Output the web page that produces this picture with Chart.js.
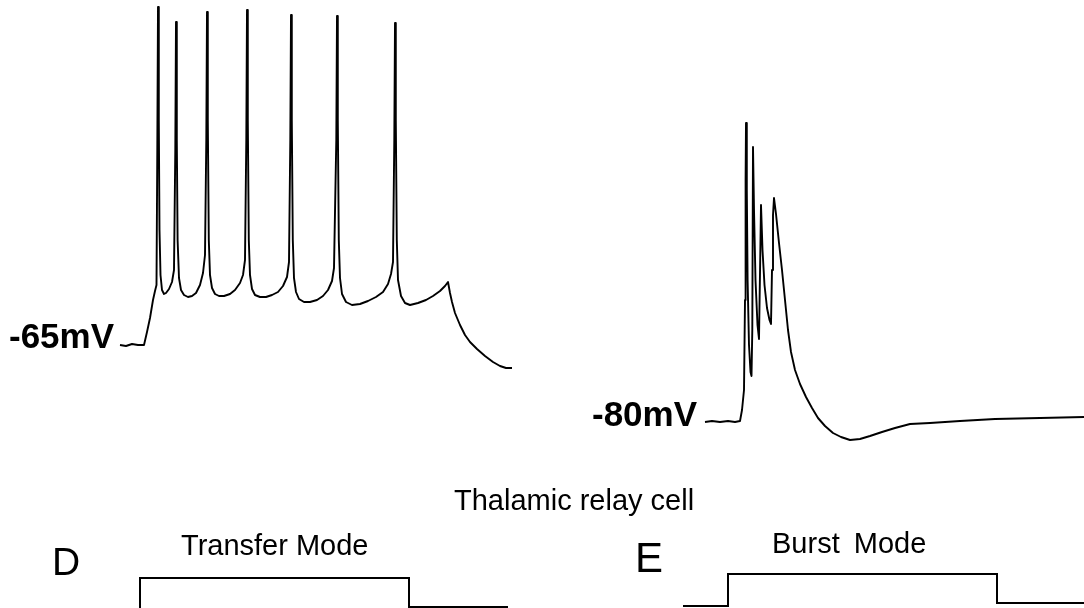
<!DOCTYPE html>
<html>
<head>
<meta charset="utf-8">
<script src="https://cdn.jsdelivr.net/npm/chart.js@4"></script>
<style>
  html, body { margin: 0; padding: 0; background: #fff; }
  #wrap { position: relative; width: 1084px; height: 608px; overflow: hidden; background: #fff; }
  #c { position: absolute; left: 0; top: 0; }
  .lbl { position: absolute; white-space: nowrap; color: #000; font-family: "Liberation Sans", Arial, sans-serif; line-height: 1; }
</style>
</head>
<body>
<div id="wrap">
  <canvas id="c" width="1084" height="608"></canvas>
  <div class="lbl" style="left:9px; top:318px; font-size:35px; font-weight:bold;">-65mV</div>
  <div class="lbl" style="left:592px; top:396px; font-size:35px; font-weight:bold;">-80mV</div>
  <div class="lbl" style="left:454px; top:486px; font-size:29px;">Thalamic relay cell</div>
  <div class="lbl" style="left:52px; top:542px; font-size:39px;">D</div>
  <div class="lbl" style="left:181px; top:531px; font-size:29px;">Transfer Mode</div>
  <div class="lbl" style="left:635px; top:537px; font-size:42px;">E</div>
  <div class="lbl" style="left:772px; top:529px; font-size:29px; word-spacing:6px;">Burst Mode</div>
</div>
<script>
// Transfer mode (tonic firing) membrane potential: time (ms), Vm (mV)
const leftTime = [0,6,12,18,24,27,30,33,35,36.5,
  37.3,38,38.8,39.5,40.5,42,44,46,49,52,54,
  55.3,56,56.8,57.6,59,61,64,68,72,76,80,83,85,
  86.3,87,87.8,88.8,90,92,95,99,104,110,115,120,123,125,
  126.3,127,127.8,128.8,130,132,135,140,146,152,158,163,167,169,
  170.3,171,171.8,172.8,174,176,179,184,190,197,203,208,212,214,
  216.3,217,217.8,218.8,220,222,226,232,240,248,256,263,268,271,273,
  274.3,275,275.8,276.8,278,281,285,290,298,306,313,320,325,328,
  330,332,335,340,345,350,357,365,373,380,386,392];
const leftVm = [-65,-65.2,-64.8,-65,-65,-62.4,-59.6,-56,-54.2,-53,
  -26,2.6,-20,-42,-51,-54,-54.8,-54.6,-53.8,-52.4,-50,
  -26,-0.4,-24,-44,-51.6,-54,-55,-55.4,-55.2,-54.6,-53,-50.6,-47,
  -24,1.6,-20,-44,-51,-53.6,-54.8,-55.2,-55.2,-54.8,-54,-52.6,-51,-48,
  -24,2,-20,-44,-51,-53.8,-55,-55.4,-55.4,-55,-54.4,-53.2,-51.4,-48.4,
  -24,1,-20,-44,-51.6,-54.4,-55.8,-56.4,-56.4,-56,-55.2,-54,-52.2,-49.6,
  -24,0.8,-20,-44,-51.6,-54.8,-56.4,-57,-56.8,-56.2,-55.4,-54.4,-52.8,-50.8,-48.4,
  -24,-0.6,-20,-44,-52,-55.2,-56.6,-57,-56.6,-56,-55.2,-54.2,-53.2,-52.4,
  -54.6,-56.4,-58.6,-61,-63,-64.4,-65.8,-67.2,-68.4,-69.2,-69.6,-69.6];

// Burst mode membrane potential: time (ms), Vm (mV)
const rightTime = [0,7,15,23,30,35,37,39,
  40,40.6,41,41.8,42.6,44,45.5,46.5,
  47.3,48,49,50.5,52.5,54,
  55.2,56,57.5,59.5,62,64.5,66,
  67,68,69,71,74,77,80,83,86,90,95,101,107,113,120,128,136,145,
  155,165,177,190,205,225,255,290,335,379];
const rightVm = [-80.4,-80.2,-80.4,-80.2,-80.4,-80.2,-78,-74,
  -56,-32,-20.6,-34,-52,-65,-70.4,-71.2,
  -62,-25.4,-38,-52,-61,-63.8,
  -48,-37,-46,-53,-57.6,-60,-60.8,
  -50,-39,-35.6,-38.8,-44.6,-50,-56,-62,-66.4,-70,-72.8,-75.4,-77.6,-79.6,-81.2,-82.6,-83.4,-84,
  -83.8,-83.2,-82.4,-81.6,-80.8,-80.6,-80.2,-79.8,-79.6,-79.4];

// Injected current steps (nA)
const stepLeftTime = [20,20,289,289,388];
const stepLeftCurrent = [-0.05,0.30,0.30,0.01,0.01];
const stepRightTime = [-22,23,23,292,292,379];
const stepRightCurrent = [0.02,0.02,0.34,0.34,0.05,0.05];

function pts(xs, ys) { return xs.map((x, i) => ({ x: x, y: ys[i] })); }

const base = { borderColor: '#000', pointRadius: 0, tension: 0, fill: false, showLine: true, borderJoinStyle: 'round' };

new Chart(document.getElementById('c'), {
  type: 'line',
  data: {
    datasets: [
      Object.assign({}, base, { label: 'Transfer Vm', data: pts(leftTime, leftVm), borderWidth: 1.9, xAxisID: 'xL', yAxisID: 'yV' }),
      Object.assign({}, base, { label: 'Burst Vm', data: pts(rightTime, rightVm), borderWidth: 1.9, xAxisID: 'xR', yAxisID: 'yV' }),
      Object.assign({}, base, { label: 'Transfer step', data: pts(stepLeftTime, stepLeftCurrent), borderWidth: 2, borderJoinStyle: 'miter', xAxisID: 'xL', yAxisID: 'yI' }),
      Object.assign({}, base, { label: 'Burst step', data: pts(stepRightTime, stepRightCurrent), borderWidth: 2, borderJoinStyle: 'miter', xAxisID: 'xR', yAxisID: 'yI' })
    ]
  },
  options: {
    responsive: false,
    animation: false,
    events: [],
    layout: { padding: 0 },
    plugins: { legend: { display: false }, tooltip: { enabled: false }, title: { display: false } },
    scales: {
      xL: { type: 'linear', position: 'bottom', min: -120, max: 964, display: false },
      xR: { type: 'linear', position: 'bottom', min: -705, max: 379, display: false },
      yV: { type: 'linear', position: 'left', min: -117.6, max: 4, display: false },
      yI: { type: 'linear', position: 'right', min: 0, max: 6.08, display: false }
    }
  }
});
</script>
</body>
</html>
